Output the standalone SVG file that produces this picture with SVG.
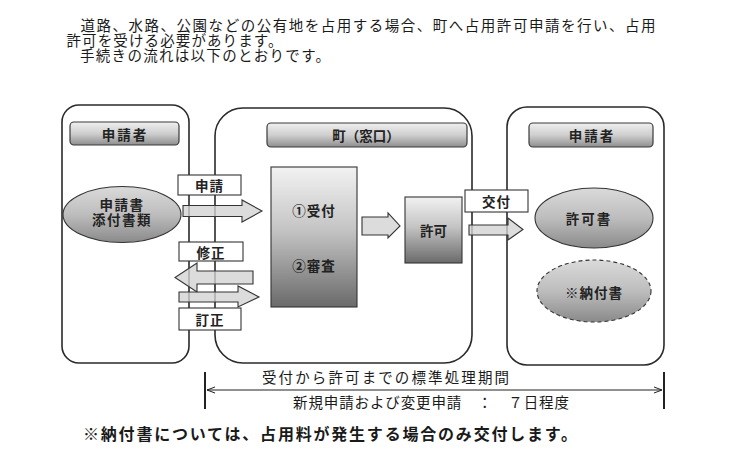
<svg xmlns="http://www.w3.org/2000/svg" width="732" height="465" viewBox="0 0 732 465">
<defs>
<linearGradient id="gHead" x1="0" y1="0" x2="0" y2="1">
<stop offset="0" stop-color="#efefef"/><stop offset="0.5" stop-color="#cfcfcf"/><stop offset="1" stop-color="#8e8e8e"/>
</linearGradient>
<linearGradient id="gTall" x1="0" y1="0" x2="0" y2="1">
<stop offset="0" stop-color="#f2f2f2"/><stop offset="0.45" stop-color="#c4c4c4"/><stop offset="1" stop-color="#6a6a6a"/>
</linearGradient>
<linearGradient id="gEll" x1="0" y1="0" x2="0" y2="1">
<stop offset="0" stop-color="#dadada"/><stop offset="0.5" stop-color="#bdbdbd"/><stop offset="1" stop-color="#8a8a8a"/>
</linearGradient>
<marker id="openL" markerWidth="10" markerHeight="8" refX="1" refY="4" orient="auto" markerUnits="userSpaceOnUse">
<path d="M9,1 L1,4 L9,7" fill="none" stroke="#222" stroke-width="1"/>
</marker>
<marker id="openR" markerWidth="10" markerHeight="8" refX="9" refY="4" orient="auto" markerUnits="userSpaceOnUse">
<path d="M1,1 L9,4 L1,7" fill="none" stroke="#222" stroke-width="1"/>
</marker>
</defs>
<style>
text{font-family:"Noto Sans CJK JP","Noto Sans CJK SC",sans-serif;fill:#1a1a1a}
.intro{font-size:14.5px;font-family:"Liberation Sans","Noto Sans CJK JP",sans-serif}
.nt{font-size:13.5px;font-weight:bold;text-anchor:middle;dominant-baseline:central;fill:#222}
.tight{font-family:"Liberation Sans","Noto Sans CJK JP",sans-serif}
.cont{fill:#fff;stroke:#2a2a2a;stroke-width:1.6}
.head{fill:url(#gHead);stroke:#3a3a3a;stroke-width:1.2}
.arrow{fill:#d2d2d2;fill-opacity:0.78;stroke:#333;stroke-width:1.1}
.lbl{fill:#fff;stroke:#333;stroke-width:1.1}
.ell{fill:url(#gEll);stroke:#333;stroke-width:1.1}
.bar{stroke:#222;stroke-width:2}
</style>
<rect width="732" height="465" fill="#fff"/>

<g id="intro">
<text class="intro" x="80.5" y="31" textLength="575" lengthAdjust="spacing">道路、水路、公園などの公有地を占用する場合、町へ占用許可申請を行い、占用</text>
<text class="intro" x="66.5" y="46" textLength="216" lengthAdjust="spacing">許可を受ける必要があります。</text>
<text class="intro" x="80" y="60.5" textLength="250" lengthAdjust="spacing">手続きの流れは以下のとおりです。</text>
</g>

<g id="applicant-left">
<rect class="cont" x="62" y="105" width="127" height="258" rx="17"/>
</g>
<g id="town">
<rect class="cont" x="215" y="108" width="257" height="255" rx="28"/>
</g>
<g id="applicant-right">
<rect class="cont" x="507" y="107" width="157" height="258" rx="20"/>
</g>

<g id="connectors">
<polygon class="arrow" points="183,205.5 242,205.5 242,200 262,211 242,222 242,216.5 183,216.5"/>
<polygon class="arrow" points="253,271 197,271 197,263 175,277.5 197,292 197,284 253,284"/>
<polygon class="arrow" points="179,292 238,292 238,286 259,297 238,307 238,302 179,302"/>
<polygon class="arrow" points="362,217 388,217 388,213 400,226 388,238 388,235 362,235"/>
<polygon class="arrow" points="469,225 508,225 508,218 523,229.5 508,240 508,235 469,235"/>
<g id="label-shinsei"><rect class="lbl" x="178" y="175" width="63" height="20"/><text class="nt" x="209.5" y="185" letter-spacing="1">申請</text></g>
<g id="label-shusei"><rect class="lbl" x="179" y="242" width="64" height="19"/><text class="nt" x="211" y="251.5" letter-spacing="1">修正</text></g>
<g id="label-teisei"><rect class="lbl" x="179" y="308" width="62" height="22"/><text class="nt" x="210" y="319" letter-spacing="1">訂正</text></g>
<g id="label-kofu"><rect class="lbl" x="465" y="190" width="63" height="22"/><text class="nt" x="496.5" y="201" letter-spacing="1">交付</text></g>
</g>

<g id="head-left"><rect class="head" x="70" y="122" width="109" height="23" rx="4"/><text class="nt" x="125" y="133.5" letter-spacing="2">申請者</text></g>
<g id="doc-application"><ellipse class="ell" cx="122" cy="214.5" rx="59" ry="28"/><text class="nt tight" x="122" y="205" font-size="13.5" letter-spacing="1.5">申請書</text><text class="nt tight" x="122" y="220.5" font-size="13.5" letter-spacing="1.5">添付書類</text></g>

<g id="head-town"><rect class="head" x="267" y="123" width="200" height="24" rx="4"/><text class="nt" x="366" y="135">町（窓口）</text></g>
<g id="review"><rect x="271" y="167" width="86" height="140" fill="url(#gTall)" stroke="#333" stroke-width="1.1"/><text class="nt" x="314" y="210" font-size="15" letter-spacing="1">①受付</text><text class="nt" x="314" y="265" font-size="15" letter-spacing="1">②審査</text></g>
<g id="permit"><rect x="405" y="197" width="57" height="66" fill="url(#gTall)" stroke="#333" stroke-width="1.1"/><text class="nt" x="433.5" y="230" font-size="15">許可</text></g>

<g id="head-right"><rect class="head" x="529" y="123" width="124" height="24" rx="4"/><text class="nt" x="592" y="135" letter-spacing="2">申請者</text></g>
<g id="doc-permit"><ellipse class="ell" cx="594" cy="218" rx="59" ry="30"/><text class="nt" x="589" y="218" font-size="14.5" letter-spacing="2">許可書</text></g>
<g id="doc-payment"><ellipse class="ell" cx="594" cy="291" rx="57" ry="31" stroke-dasharray="4,3"/><text class="nt" x="594" y="292" font-size="14.5" letter-spacing="1">※納付書</text></g>

<g id="period">
<line class="bar" x1="205" y1="372" x2="205" y2="409"/>
<line class="bar" x1="664" y1="372" x2="664" y2="409"/>
<line x1="207" y1="390" x2="662" y2="390" stroke="#222" stroke-width="1.1" marker-start="url(#openL)" marker-end="url(#openR)"/>
<text x="262" y="382.5" font-size="14.5" textLength="247" lengthAdjust="spacing">受付から許可までの標準処理期間</text>
<text x="293" y="407.5" font-size="14.5" textLength="276" lengthAdjust="spacing">新規申請および変更申請　：　７日程度</text>
</g>

<g id="note">
<text x="83" y="439.5" font-size="16" font-weight="bold" textLength="494" lengthAdjust="spacing">※納付書については、占用料が発生する場合のみ交付します。</text>
</g>
</svg>
